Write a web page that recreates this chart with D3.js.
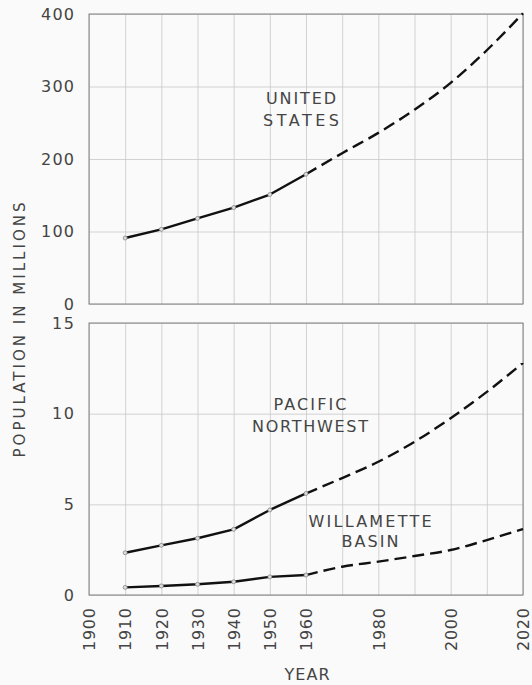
<!DOCTYPE html>
<html>
<head>
<meta charset="utf-8">
<script src="https://cdn.jsdelivr.net/npm/d3@7"></script>
<style>
  body { margin: 0; background: #fafafa; }
  svg { display: block; }
  text { font-family: "DejaVu Sans", sans-serif; fill: #444; }
</style>
</head>
<body>
<div id="chart"></div>
<script>
// values (millions)
var years = [1910, 1920, 1930, 1940, 1950, 1960, 1970, 1980, 1990, 2000, 2010, 2020];
var usPop = [91, 103, 118, 133, 151, 179, 208, 236, 268, 305, 350, 401];
var pnwPop = [2.33, 2.74, 3.13, 3.62, 4.69, 5.6, 6.45, 7.35, 8.45, 9.75, 11.2, 12.8];
var wilPop = [0.42, 0.5, 0.59, 0.73, 1.0, 1.1, 1.56, 1.84, 2.15, 2.48, 3.03, 3.64];
var lastObserved = 1960;

var gridYears = [1900, 1910, 1920, 1930, 1940, 1950, 1960, 1970, 1980, 1990, 2000, 2010, 2020];
var tickYears = [1900, 1910, 1920, 1930, 1940, 1950, 1960, 1980, 2000, 2020];
var topTicks = [0, 100, 200, 300, 400];
var botTicks = [0, 5, 10, 15];

var width = 532, height = 685;

var svg = d3.select("#chart").append("svg")
    .attr("width", width)
    .attr("height", height);

var x = d3.scaleLinear().domain([1900, 2020]).range([89, 523]);
var yTop = d3.scaleLinear().domain([0, 400]).range([304, 14]);
var yBot = d3.scaleLinear().domain([0, 15]).range([595, 323]);

function panel(y, ticks, series) {
    var g = svg.append("g");

    // vertical grid
    g.append("g")
        .attr("transform", "translate(0," + y.range()[0] + ")")
        .call(d3.axisBottom(x).tickValues(gridYears).tickSize(-(y.range()[0] - y.range()[1])).tickFormat(""))
        .call(function(a) { a.select(".domain").remove(); })
        .selectAll("line").attr("stroke", "#c8c8c8").attr("stroke-width", 0.8);

    // horizontal grid + labels
    var ya = g.append("g")
        .attr("transform", "translate(" + x(1900) + ",0)")
        .call(d3.axisLeft(y).tickValues(ticks).tickSize(-(x(2020) - x(1900))).tickPadding(15));
    ya.select(".domain").remove();
    ya.selectAll("line").attr("stroke", "#c8c8c8").attr("stroke-width", 0.8);
    ya.selectAll("text")
        .style("font-size", "16px")
        .style("font-family", "DejaVu Sans, sans-serif")
        .attr("textLength", function(d) { return String(d).length * 11; })
        .attr("lengthAdjust", "spacing")
        .attr("fill", "#444");

    // frame
    g.append("rect")
        .attr("x", x(1900)).attr("y", y.range()[1])
        .attr("width", x(2020) - x(1900))
        .attr("height", y.range()[0] - y.range()[1])
        .attr("fill", "none")
        .attr("stroke", "#808080")
        .attr("stroke-width", 1);

    series.forEach(function(vals) {
        var pts = years.map(function(yr, i) { return { yr: yr, v: vals[i] }; });
        var obs = pts.filter(function(d) { return d.yr <= lastObserved; });
        var proj = pts.filter(function(d) { return d.yr >= lastObserved; });
        var lineObs = d3.line()
            .x(function(d) { return x(d.yr); })
            .y(function(d) { return y(d.v); });
        var lineProj = d3.line()
            .x(function(d) { return x(d.yr); })
            .y(function(d) { return y(d.v); })
            .curve(d3.curveMonotoneX);

        g.append("path").attr("d", lineObs(obs))
            .attr("fill", "none").attr("stroke", "#111").attr("stroke-width", 2.4)
            .attr("stroke-linejoin", "round")
            .attr("stroke-linecap", "round");
        g.append("path").attr("d", lineProj(proj))
            .attr("fill", "none").attr("stroke", "#111").attr("stroke-width", 2.4)
            .attr("stroke-dasharray", "12,6");

        g.selectAll(null).data(obs).enter().append("circle")
            .attr("cx", function(d) { return x(d.yr); })
            .attr("cy", function(d) { return y(d.v); })
            .attr("r", 2)
            .attr("fill", "#ddd")
            .attr("stroke", "#888")
            .attr("stroke-width", 0.8);
    });
    return g;
}

panel(yTop, topTicks, [usPop]);
panel(yBot, botTicks, [pnwPop, wilPop]);

// x tick labels, rotated
var xa = svg.append("g")
    .attr("transform", "translate(0," + yBot.range()[0] + ")")
    .call(d3.axisBottom(x).tickValues(tickYears).tickSize(0).tickFormat(d3.format("d")));
xa.select(".domain").remove();
xa.selectAll("text")
    .attr("transform", "rotate(-90)")
    .attr("x", -13)
    .attr("y", 0)
    .attr("dy", "0.36em")
    .attr("text-anchor", "end")
    .attr("textLength", 43)
    .attr("lengthAdjust", "spacing")
    .style("font-size", "16px")
    .style("font-family", "DejaVu Sans, sans-serif")
    .attr("fill", "#444");

// labels
function label(lines, cx, baselines, lens) {
    lines.forEach(function(t, i) {
        svg.append("text")
            .attr("x", cx).attr("y", baselines[i])
            .attr("text-anchor", "middle")
            .attr("textLength", lens[i])
            .attr("lengthAdjust", "spacing")
            .style("font-size", "16px")
            .text(t);
    });
}
label(["UNITED", "STATES"], 301, [104, 126], [70, 76]);
label(["PACIFIC", "NORTHWEST"], 310, [410, 432], [73, 116]);
label(["WILLAMETTE", "BASIN"], 370, [527, 547], [123, 57]);

svg.append("text")
    .attr("transform", "translate(25,330) rotate(-90)")
    .attr("text-anchor", "middle")
    .attr("textLength", 255)
    .attr("lengthAdjust", "spacing")
    .style("font-size", "15px")
    .text("POPULATION IN MILLIONS");

svg.append("text")
    .attr("x", 307).attr("y", 680)
    .attr("text-anchor", "middle")
    .attr("textLength", 45)
    .attr("lengthAdjust", "spacing")
    .style("font-size", "16px")
    .text("YEAR");
</script>
</body>
</html>
